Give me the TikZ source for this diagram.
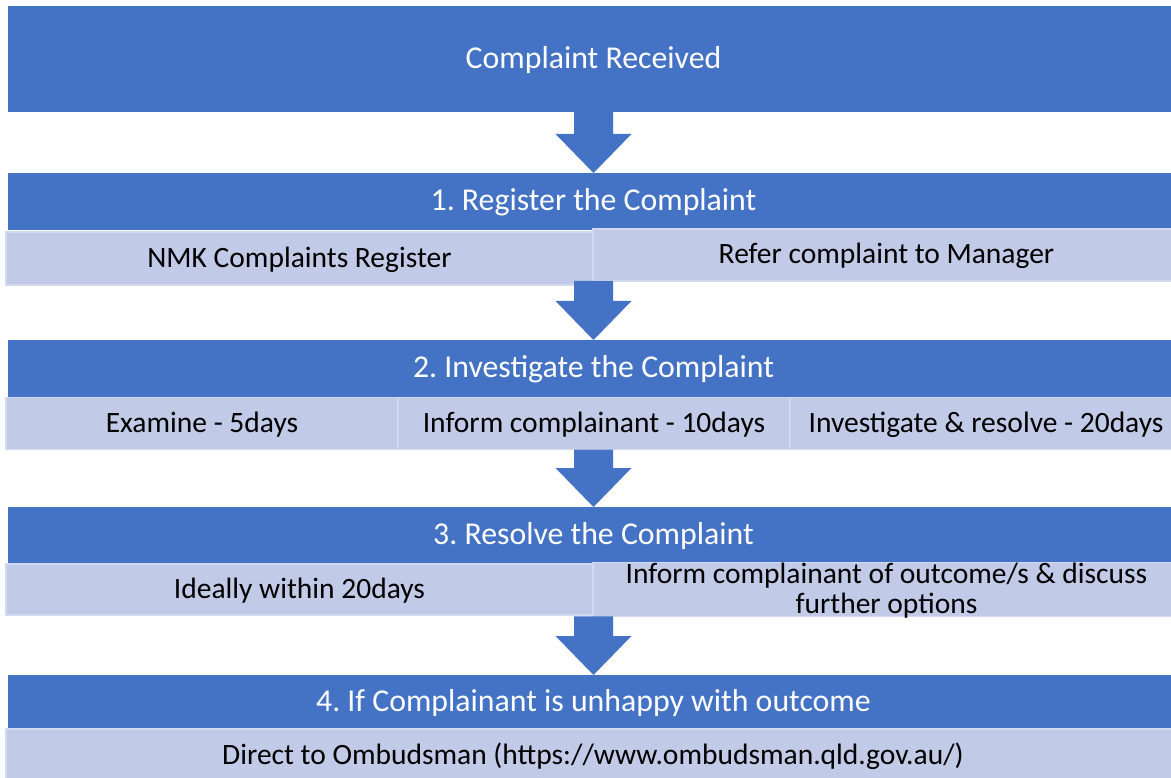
\documentclass[tikz,border=0pt]{standalone}
\usepackage{fontspec}
\setmainfont{Carlito}
\usetikzlibrary{calc}
\frenchspacing

\definecolor{hdr}{HTML}{4472C4}
\definecolor{cell}{HTML}{C1CAE6}
\definecolor{cellrule}{HTML}{D3D9EE}

\newcommand{\flowarrow}[2]{%
  \path (#2.north |- #1.south) coordinate (fatop) ($(#2.north)+(0,-39)$) coordinate (fahead);
  \fill[hdr] ($(fatop)+(-19.5,0)$) -- ($(fatop)+(19.5,0)$) -- ($(fahead)+(19.5,0)$)
    -- ($(fahead)+(38,0)$) -- (#2.north) -- ($(fahead)+(-38,0)$) -- ($(fahead)+(-19.5,0)$) -- cycle;}

\begin{document}
\begin{tikzpicture}[x=1pt, y=-1pt,
  every node/.style={inner sep=0pt, outer sep=0pt, font=\fontsize{29.5}{30}\selectfont, align=center, text depth=0.33em},
  head/.style={fill=hdr, text=white, font=\fontsize{31.8}{34}\selectfont, minimum width=1171pt, minimum height=57pt},
  half/.style={fill=cell, draw=cellrule, line width=1.5pt, minimum width=587pt, minimum height=52pt},
  third/.style={half, minimum width=392pt},
  full/.style={half, minimum width=1174pt}]
  \clip (0,0) rectangle (1171,778);
  \fill[white] (0,0) rectangle (1171,778);

  \node[head, minimum height=106pt] (recv) at (593.5,59) {Complaint Received};

  \node[head] (reg) at (593.5,201.5) {1. Register the Complaint};
  \node[half, minimum height=53pt] (reg-a) at (299.5,258.5) {NMK Complaints Register};
  \node[half] (reg-b) at (886.5,255) {Refer complaint to Manager};

  \node[head] (inv) at (593.5,368.5) {2. Investigate the Complaint};
  \node[third] (inv-a) at (202,423.5) {Examine - 5days};
  \node[third] (inv-b) at (594,423.5) {Inform complainant - 10days};
  \node[third] (inv-c) at (986,423.5) {Investigate \& resolve - 20days};

  \node[head] (res) at (593.5,535.5) {3. Resolve the Complaint};
  \node[half, minimum height=51pt] (res-a) at (299.5,589.5) {Ideally within 20days};
  \node[half, minimum height=51pt] (res-b) at (886.5,589.5) {Inform complainant of outcome/s \& discuss\\further options};

  \node[head, minimum height=54pt] (esc) at (593.5,702) {4. If Complainant is unhappy with outcome};
  \node[full] (esc-a) at (593,755) {Direct to Ombudsman (https://www.ombudsman.qld.gov.au/)};

  \flowarrow{recv}{reg}
  \flowarrow{reg-b}{inv}
  \flowarrow{inv-b}{res}
  \flowarrow{res-b}{esc}
\end{tikzpicture}
\end{document}
